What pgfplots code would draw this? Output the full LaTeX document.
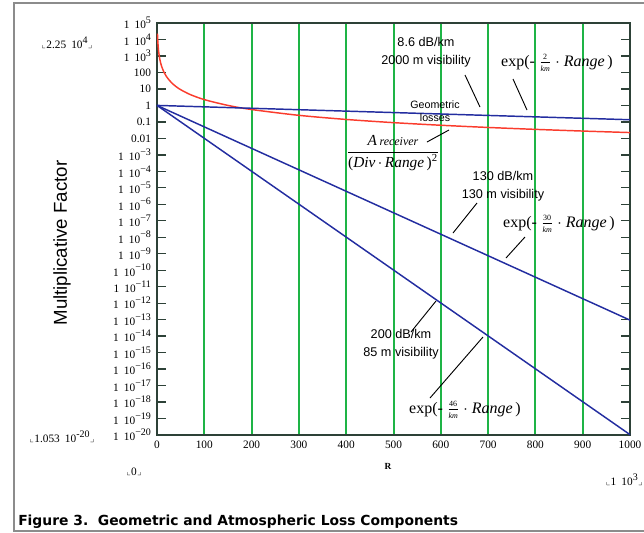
\documentclass[border=0pt]{standalone}
\usepackage{amsmath,amssymb}
\usepackage{fontspec}
\setmainfont{Liberation Serif}
\newfontfamily\sansf{Liberation Sans}
\newfontfamily\capf{DejaVu Sans}
\usepackage{pgfplots}
\pgfplotsset{compat=1.18}
\definecolor{lblue}{RGB}{35,45,160}
\definecolor{lred}{RGB}{250,60,45}
\definecolor{lgreen}{RGB}{30,180,70}
\definecolor{axisc}{RGB}{45,65,55}
\definecolor{framec}{RGB}{140,140,140}
\newcommand{\ex}[1]{exp(- $\frac{\mbox{\fontsize{6}{6}\selectfont #1}}{\mbox{\fontsize{6}{6}\selectfont\itshape km}}$ $\cdot$ \textit{Range}\,)}
\newcommand{\limlab}[1]{{\tiny$\llcorner$}#1{\tiny$\lrcorner$}}
\newcommand{\tl}[1]{1\hspace{0.45em}10\raisebox{0.45em}{\fontsize{7.5}{8}\selectfont #1}}
\begin{document}
\begin{tikzpicture}
\useasboundingbox (0,0) rectangle (483pt,-399.75pt);
\begin{axis}[
  at={(117.75pt,-326.25pt)}, anchor=south west,
  scale only axis, width=354.75pt, height=309pt,
  xmin=0, xmax=1000, ymode=log, ymin=1e-20, ymax=1e5,
  xtick={0,100,200,300,400,500,600,700,800,900,1000},
  xticklabels={0,100,200,300,400,500,600,700,800,900,1000},
  xmajorgrids,
  major grid style={draw=lgreen, line width=1.5pt},
  ytick={1e-20,1e-19,1e-18,1e-17,1e-16,1e-15,1e-14,1e-13,1e-12,1e-11,1e-10,1e-9,1e-8,1e-7,1e-6,1e-5,1e-4,1e-3,1e-2,1e-1,1,10,100,1e3,1e4,1e5},
  yticklabels={\tl{−20},\tl{−19},\tl{−18},\tl{−17},\tl{−16},\tl{−15},\tl{−14},\tl{−13},\tl{−12},\tl{−11},\tl{−10},\tl{−9},\tl{−8},\tl{−7},\tl{−6},\tl{−5},\tl{−4},\tl{−3},0.01,0.1,1,10,100,\tl{3},\tl{4},\tl{5}},
  yminorticks=false, xminorticks=false,
  axis line style={draw=axisc, line width=1.3pt},
  tick align=inside,
  major tick length=6.75pt,
  y tick style={draw=axisc, line width=1pt},
  x tick style={draw=none},
  tick label style={font=\fontsize{8.5}{9}\selectfont},
  yticklabel style={xshift=-1pt},
  xticklabel style={yshift=-1pt},
  clip=false,
]
\addplot[lred, line width=1.1pt, smooth] coordinates {
(1,22500) (1.5,10000) (2,5625) (3,2500) (4,1406.25) (5,900) (7,459.18) (10,225) (15,100) (20,56.25) (30,25) (40,14.0625) (50,9) (70,4.5918) (100,2.25) (150,1) (200,0.5625) (300,0.25) (400,0.140625) (500,0.09) (600,0.0625) (700,0.045918) (800,0.035156) (900,0.027778) (1000,0.0225)};
\addplot[lblue, line width=1.1pt] coordinates {(0,1) (1000,0.135335)};
\addplot[lblue, line width=1.1pt] coordinates {(0,1) (1000,9.3576e-14)};
\addplot[lblue, line width=1.1pt] coordinates {(0,1) (1000,1.0531e-20)};
\end{axis}
\begin{scope}[x=0.75pt,y=-0.75pt]
% frame
\draw[framec, line width=1.5pt] (644,3) -- (14,3) -- (14,531) -- (644,531);
% y label
\node[rotate=90, font=\sansf\fontsize{14}{16}\selectfont] at (62,243) {Multiplicative Factor};
% annotations
\node[align=center, font=\sansf\fontsize{9.5}{13.5}\selectfont] at (426,52) {8.6 dB/km\\2000 m visibility};
\draw[black, line width=0.7pt] (465,75) -- (480,107);
\node[font=\fontsize{12}{13}\selectfont] at (557,63) {\ex{2}};
\draw[black, line width=0.7pt] (513,79) -- (527,110);
\node[align=center, font=\sansf\fontsize{8}{9.75}\selectfont] at (435,111) {Geometric\\losses};
\node[font=\fontsize{11.5}{13}\selectfont] at (393,153) {$\dfrac{\mbox{\itshape A\,\fontsize{9}{10}\selectfont receiver}}{\mbox{(\itshape Div\,\upshape$\cdot$\,\itshape Range\upshape\,)\textsuperscript{2}}}$};
\draw[black, line width=0.7pt] (427,142) -- (449,130);
\node[align=center, font=\sansf\fontsize{9.5}{13.5}\selectfont] at (503,186) {130 dB/km\\130 m visibility};
\draw[black, line width=0.7pt] (477,203) -- (453,233);
\node[font=\fontsize{12}{13}\selectfont] at (559,224) {\ex{30}};
\draw[black, line width=0.7pt] (525,237) -- (506,258);
\node[align=center, font=\sansf\fontsize{9.5}{13.5}\selectfont] at (401,344) {200 dB/km\\85 m visibility};
\draw[black, line width=0.7pt] (411,332) -- (436,301);
\node[font=\fontsize{12}{13}\selectfont] at (465,410) {\ex{46}};
\draw[black, line width=0.7pt] (430,398) -- (483,337);
% axis limit labels
\node[font=\fontsize{8.5}{9}\selectfont] at (67,43) {\limlab{2.25\hspace{0.45em}10\raisebox{0.45em}{\fontsize{7.5}{8}\selectfont 4}}};
\node[font=\fontsize{8.5}{9}\selectfont] at (62,437) {\limlab{1.053\hspace{0.45em}10\raisebox{0.45em}{\fontsize{7.5}{8}\selectfont -20}}};
\node[font=\fontsize{8.5}{9}\selectfont] at (134,472) {\limlab{0}};
\node[font=\fontsize{8.5}{9}\selectfont, anchor=east, inner sep=0pt] at (643,480) {\limlab{1\hspace{0.45em}10\raisebox{0.45em}{\fontsize{7.5}{8}\selectfont 3}}};
\node[font=\bfseries\fontsize{7}{8}\selectfont] at (388,466) {R};
% caption
\node[anchor=base west, inner sep=0pt, font=\capf\bfseries\fontsize{10.4}{12}\selectfont] at (18,525) {Figure 3.\ \ Geometric and Atmospheric Loss Components};
\end{scope}
\end{tikzpicture}
\end{document}
